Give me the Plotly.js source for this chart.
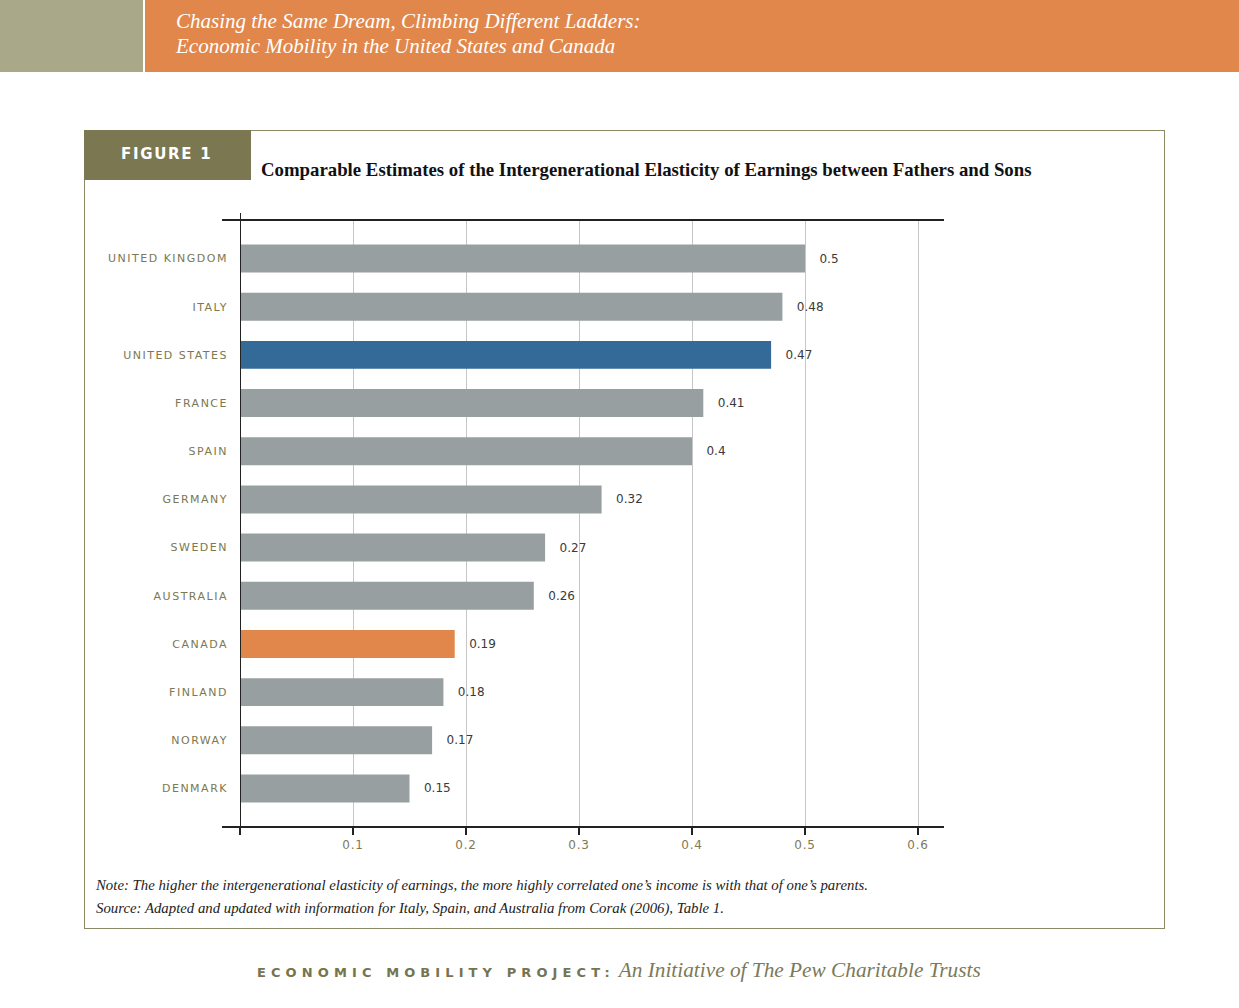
<!DOCTYPE html>
<html>
<head>
<meta charset="utf-8">
<script src="https://cdn.plot.ly/plotly-3.0.1.min.js"></script>
<style>
  html, body { margin: 0; padding: 0; background: #ffffff; }
  body { width: 1239px; height: 1008px; position: relative; overflow: hidden; }
  .abs { position: absolute; }
  #hdrL { left: 0; top: 0; width: 143px; height: 72px; background: #a9a889; }
  #hdrR { left: 145px; top: 0; width: 1094px; height: 72px; background: #e1874b; }
  #hdrT { left: 176px; top: 9px; color: #fff; font-family: "Liberation Serif", serif; font-style: italic; font-size: 21px; line-height: 25px; white-space: nowrap; }
  #frame { left: 84px; top: 130px; width: 1079px; height: 797px; border: 1px solid #8b8a66; }
  #figbox { left: 84px; top: 130px; width: 167px; height: 50px; background: #7a7751; }
  #figtxt { left: 121px; top: 145px; color: #fff; font-family: "DejaVu Sans", sans-serif; font-weight: bold; font-size: 15px; letter-spacing: 1.7px; white-space: nowrap; }
  #ctitle { left: 261px; top: 159px; color: #111; font-family: "Liberation Serif", serif; font-weight: bold; font-size: 18.8px; white-space: nowrap; }
  .note { left: 96px; color: #222; font-family: "Liberation Serif", serif; font-style: italic; font-size: 14.8px; white-space: nowrap; }
  #foot { left: 257px; top: 958px; white-space: nowrap; }
  #foot .a { font-family: "DejaVu Sans", sans-serif; font-weight: bold; font-size: 13px; letter-spacing: 5.1px; color: #76744f; }
  #foot .b { font-family: "Liberation Serif", serif; font-style: italic; font-size: 21.3px; color: #7b7a58; }
  #chart { position: absolute; left: 0; top: 0; width: 1239px; height: 1008px; z-index: 2; }
  #chart .ytick text { letter-spacing: 1.5px; }
  #chart .xtick text { letter-spacing: 0.8px; }
  #chart .textpoint text { letter-spacing: 0.8px; }
</style>
</head>
<body>
<div class="abs" id="hdrL"></div>
<div class="abs" id="hdrR"></div>
<div class="abs" id="hdrT">Chasing the Same Dream, Climbing Different Ladders:<br>Economic Mobility in the United States and Canada</div>
<div class="abs" id="frame"></div>
<div class="abs" id="figbox"></div>
<div class="abs" id="figtxt">FIGURE 1</div>
<div class="abs" id="ctitle">Comparable Estimates of the Intergenerational Elasticity of Earnings between Fathers and Sons</div>
<div class="abs note" style="top:877px">Note: The higher the intergenerational elasticity of earnings, the more highly correlated one’s income is with that of one’s parents.</div>
<div class="abs note" style="top:900px">Source: Adapted and updated with information for Italy, Spain, and Australia from Corak (2006), Table 1.</div>
<div class="abs" id="foot"><span class="a">ECONOMIC MOBILITY PROJECT:</span> <span class="b">An Initiative of The Pew Charitable Trusts</span></div>
<div id="chart"></div>
<script>
// ---- data ----
const countries = ["UNITED KINGDOM", "ITALY", "UNITED STATES", "FRANCE", "SPAIN", "GERMANY",
                   "SWEDEN", "AUSTRALIA", "CANADA", "FINLAND", "NORWAY", "DENMARK"];
const elasticity = [0.5, 0.48, 0.47, 0.41, 0.4, 0.32, 0.27, 0.26, 0.19, 0.18, 0.17, 0.15];
const xTickVals = [0, 0.1, 0.2, 0.3, 0.4, 0.5, 0.6];
const xTickText = ["", "0.1", "0.2", "0.3", "0.4", "0.5", "0.6"];

// ---- styles ----
const GRAY = "#979fa1", BLUE = "#336a98", ORANGE = "#e1874b";
const highlight = { "UNITED STATES": BLUE, "CANADA": ORANGE };
const barColors = countries.map(c => highlight[c] || GRAY);

const W = 1239, H = 1008;
const L = 240, R = 944, T = 220, B = 827;
const pw = R - L, ph = B - T;
const px = x => (x - L) / pw;
const py = y => 1 - (y - T) / ph;

const trace = {
  type: "bar",
  orientation: "h",
  y: countries,
  x: elasticity,
  width: 0.58,
  marker: { color: barColors, line: { width: 0 } },
  text: elasticity.map(v => "\u00a0\u00a0\u00a0" + v),
  textposition: "outside",
  cliponaxis: false,
  textfont: { family: "DejaVu Sans, sans-serif", size: 12, color: "#3a3a3a" },
  hoverinfo: "skip"
};

const layout = {
  width: W, height: H,
  margin: { l: L, r: W - R, t: T, b: H - B, pad: 0 },
  paper_bgcolor: "rgba(0,0,0,0)",
  plot_bgcolor: "rgba(0,0,0,0)",
  showlegend: false,
  hovermode: false,
  xaxis: {
    range: [0, 0.623],
    tickvals: xTickVals,
    ticktext: xTickText,
    ticks: "outside", ticklen: 7, tickwidth: 2, tickcolor: "#222",
    showgrid: true, gridcolor: "#c6c6c6", gridwidth: 1,
    zeroline: false, showline: false,
    tickfont: { family: "DejaVu Sans, sans-serif", size: 12, color: "#7d7a55" },
    fixedrange: true
  },
  yaxis: {
    type: "category",
    categoryorder: "array",
    categoryarray: countries,
    range: [11.8, -0.8],
    ticks: "", showgrid: false, zeroline: false, showline: false,
    ticklabelstandoff: 11,
    tickfont: { family: "DejaVu Sans, sans-serif", size: 11, color: "#7b7852" },
    fixedrange: true
  },
  shapes: [
    { type: "line", xref: "paper", yref: "paper", x0: px(222), x1: px(944), y0: py(220), y1: py(220),
      line: { color: "#222", width: 2 } },
    { type: "line", xref: "paper", yref: "paper", x0: px(222), x1: px(944), y0: py(827), y1: py(827),
      line: { color: "#222", width: 2 } },
    { type: "line", xref: "x", yref: "paper", x0: 0, x1: 0, y0: py(833), y1: py(213),
      line: { color: "#222", width: 2 } }
  ]
};

Plotly.newPlot("chart", [trace], layout, { staticPlot: true, displayModeBar: false });
</script>
</body>
</html>
